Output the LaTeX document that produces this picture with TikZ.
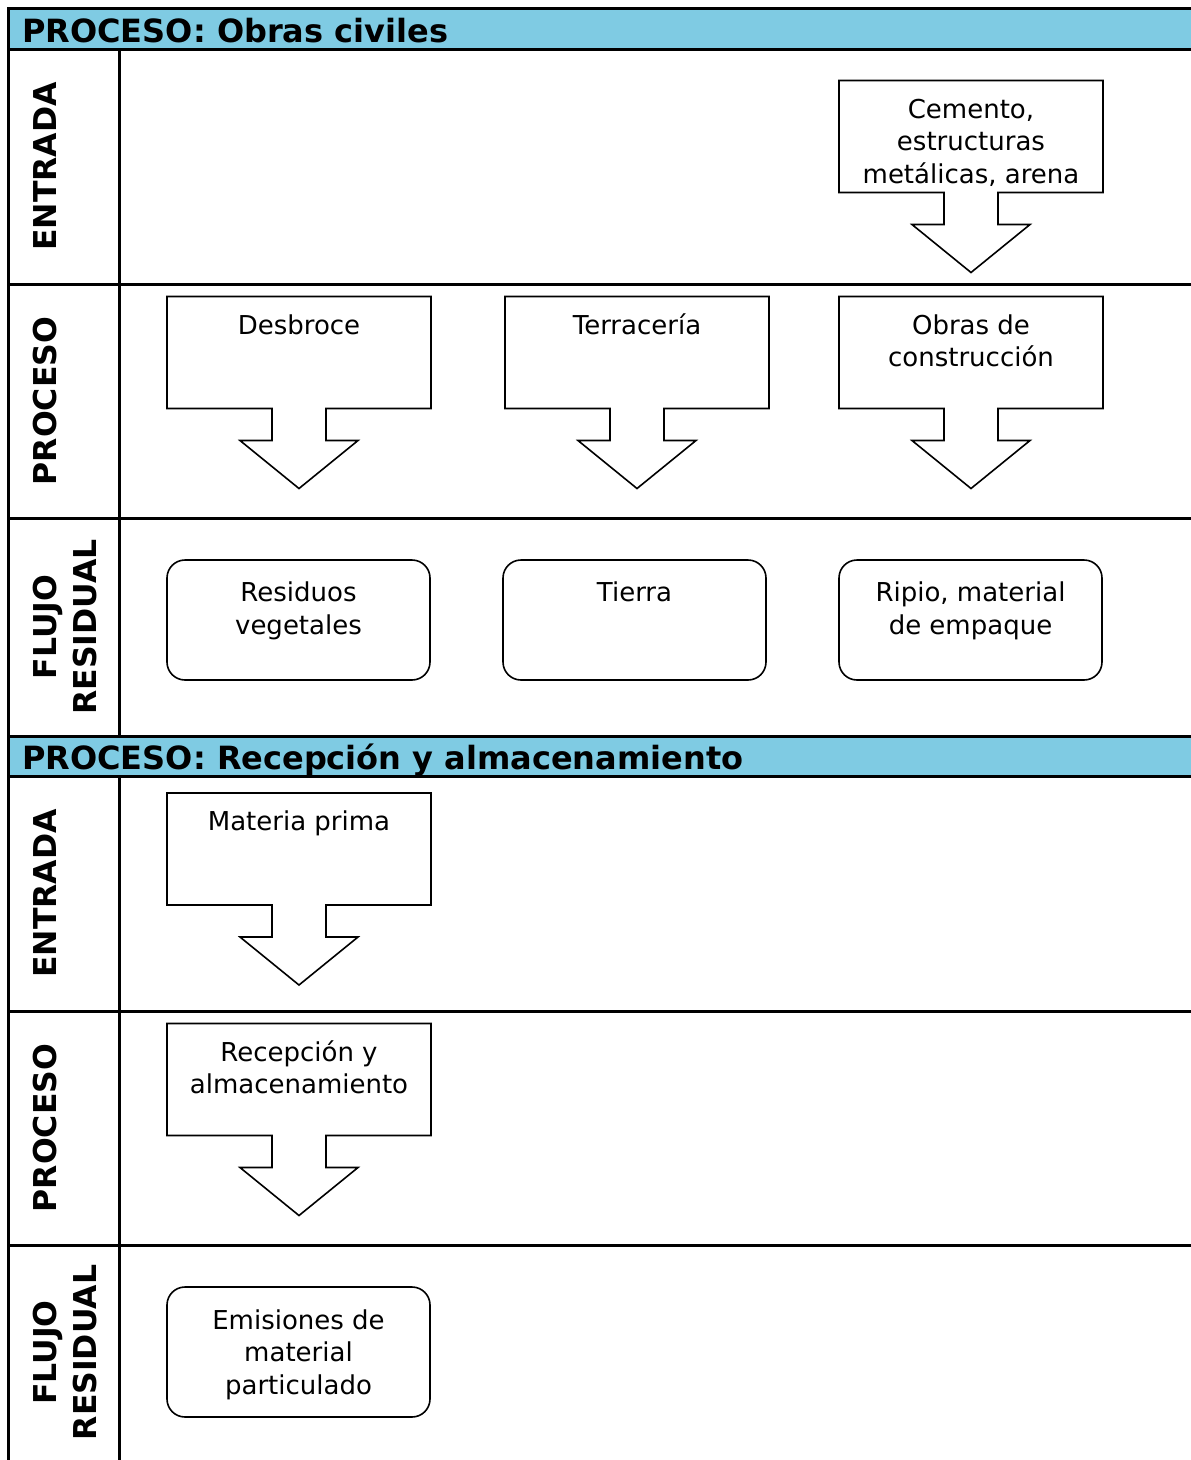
\documentclass[tikz,border=0pt]{standalone}
\usepackage{fontspec}
\setmainfont{DejaVu Sans}
\definecolor{hdr}{RGB}{127,203,227}
\newcommand{\dcallout}[4]{%
  \draw[shp] (#2,#3) -- ++(264,0) -- ++(0,112) -- ++(-105,0) -- ++(0,32) -- ++(32,0)
     -- ++(-59,48) -- ++(-59,-48) -- ++(32,0) -- ++(0,-32) -- ++(-105,0) -- cycle;
  \node[txt] (#1) at (#2+132,#3+14.75) {\strut #4};
}
\begin{document}
\begin{tikzpicture}[x=1pt,y=-1pt,
  tbl/.style={line width=3pt, black},
  shp/.style={line width=1.6pt, black, line join=miter},
  rshp/.style={line width=1.6pt, black, rounded corners=18pt},
  txt/.style={anchor=north, inner sep=0pt, align=center, font=\fontsize{26}{32.5}\selectfont},
  lbl/.style={anchor=north, inner sep=0pt, align=center, rotate=90, font=\bfseries\fontsize{31.5}{39.5}\selectfont},
  hdrtxt/.style={anchor=base west, inner sep=0pt, font=\bfseries\fontsize{32}{39.5}\selectfont}]
\useasboundingbox (0,0) rectangle (1191,1460);
\fill[white] (0,0) rectangle (1191,1460);
% header bands
\fill[hdr] (8,8.5) rectangle (1191,49);
\fill[hdr] (8,736) rectangle (1191,776);
% table lines
\draw[tbl] (8,1460) -- (8,8.5) -- (1191,8.5);
\foreach \yy in {49,284,518,736,776,1011,1245} {\draw[tbl] (8,\yy) -- (1191,\yy);}
\draw[tbl] (119,49) -- (119,736);
\draw[tbl] (119,776) -- (119,1460);
% headers
\node[hdrtxt] (h1) at (22,42) {PROCESO: Obras civiles};
\node[hdrtxt] (h2) at (22,769) {PROCESO: Recepción y almacenamiento};
% row labels
\node[lbl] (l1) at (28.85,166.5) {\strut ENTRADA};
\node[lbl] (l2) at (28.85,401) {\strut PROCESO};
\node[lbl] (l3) at (28.85,627) {\strut FLUJO\\RESIDUAL};
\node[lbl] (l4) at (28.85,893.5) {\strut ENTRADA};
\node[lbl] (l5) at (28.85,1128) {\strut PROCESO};
\node[lbl] (l6) at (28.85,1352.5) {\strut FLUJO\\RESIDUAL};
% callouts
\dcallout{cem}{839}{80.5}{Cemento,\\estructuras\\metálicas, arena}
\dcallout{des}{167}{296.5}{Desbroce}
\dcallout{ter}{505}{296.5}{Terracería}
\dcallout{obr}{839}{296.5}{Obras de\\construcción}
\dcallout{mat}{167}{793}{Materia prima}
\dcallout{rec}{167}{1023.5}{Recepción y\\almacenamiento}
% residual boxes
\draw[rshp] (167,560) rectangle (430,680);
\node[txt] (res) at (298.5,578.75) {\strut Residuos\\vegetales};
\draw[rshp] (503,560) rectangle (766,680);
\node[txt] (tie) at (634.5,578.75) {\strut Tierra};
\draw[rshp] (839,560) rectangle (1102,680);
\node[txt] (rip) at (970.5,578.75) {\strut Ripio, material\\de empaque};
\draw[rshp] (167,1287) rectangle (430,1417);
\node[txt] (emi) at (298.5,1306.25) {\strut Emisiones de\\material\\particulado};
\end{tikzpicture}
\end{document}
